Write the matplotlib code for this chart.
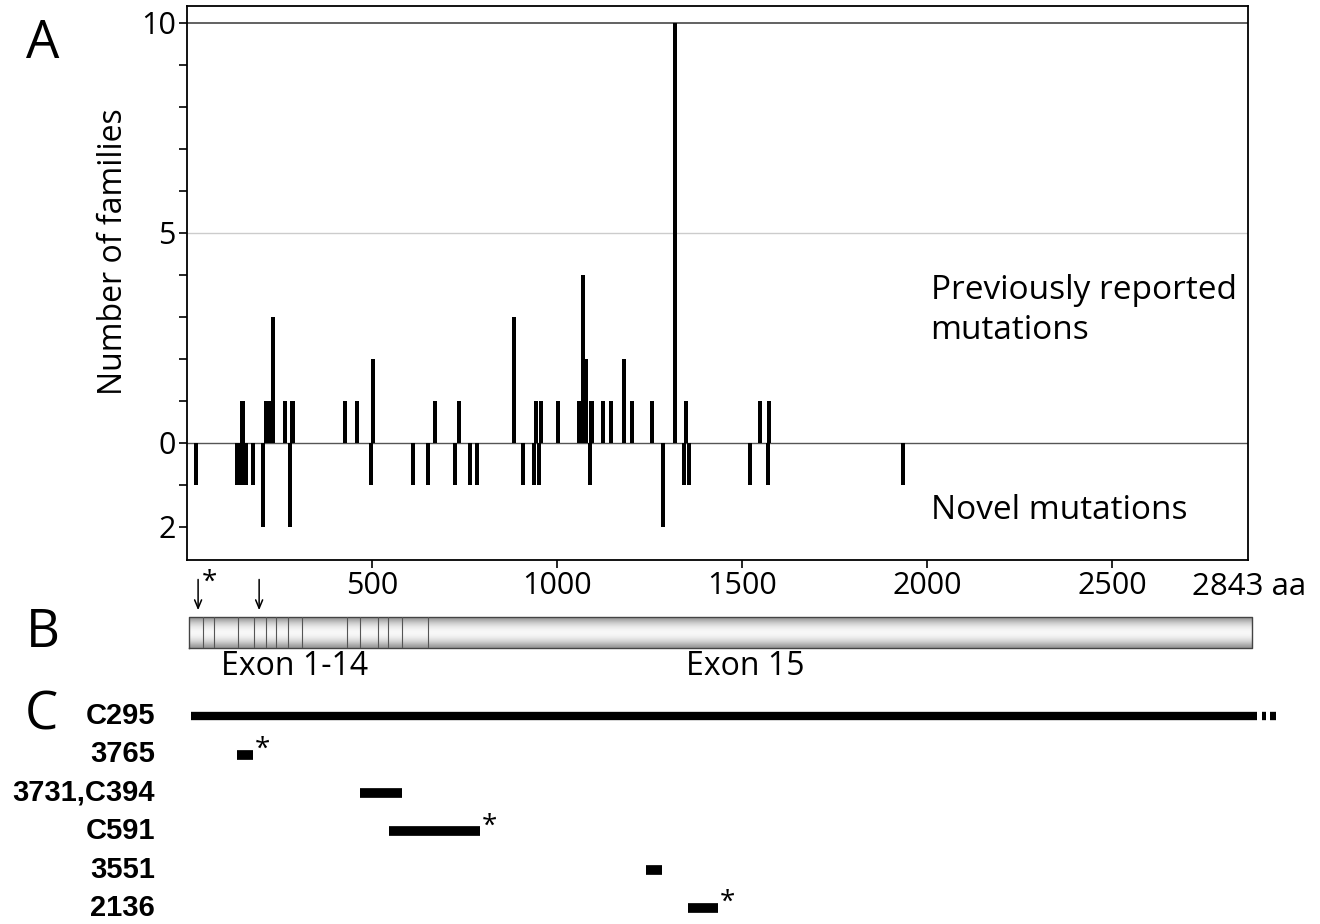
import numpy as np
import matplotlib
matplotlib.use('Agg')
import matplotlib.pyplot as plt

plt.rcParams['font.family'] = ['Open Sans', 'DejaVu Sans']

# panel A: previously reported mutations (position in aa, number of families)
rep_pos = [150, 214, 224, 233, 265, 285, 427, 460, 503, 670, 735, 884, 943, 957,
           1003, 1059, 1070, 1078, 1093, 1124, 1146, 1181, 1203, 1257, 1319, 1349,
           1549, 1573]
rep_n = [1, 1, 1, 3, 1, 1, 1, 1, 2, 1, 1, 3, 1, 1,
         1, 1, 4, 2, 1, 1, 1, 2, 1, 1, 10, 1,
         1, 1]

# novel mutations
nov_pos = [24, 135, 143, 150, 160, 178, 205, 278, 497, 611, 651, 724, 765, 784,
           908, 938, 951, 1089, 1287, 1343, 1357, 1522, 1570, 1935]
nov_n = [1, 1, 1, 1, 1, 1, 2, 2, 1, 1, 1, 1, 1, 1,
         1, 1, 1, 1, 2, 1, 1, 1, 1, 1]

# panel B: gene structure
gene_len = 2843
bar_end = 2878
exon_bounds = [44, 74, 139, 181, 214, 240, 274, 312, 433, 468, 517, 542, 580, 652]
arrow_pos = [30, 195]

# panel C: deleted / affected regions
c_labels = ['C295', '3765', '3731,C394', 'C591', '3551', '2136']
c_start = [11, 135, 468, 546, 1241, 1354]
c_end = [2892, 178, 581, 792, 1284, 1435]
c_star = [False, True, False, True, False, True]

W, H = 1320, 924
fig = plt.figure(figsize=(W / 100, H / 100), dpi=100)

x0, x1 = 187, 1248
xmax = 2868


def box(left, top, right, bottom):
    return [left / W, 1 - bottom / H, (right - left) / W, (bottom - top) / H]


# ---- A ----
ax = fig.add_axes(box(x0, 6, x1, 560))
ax.bar(rep_pos, rep_n, width=12, color='black', zorder=3)
ax.bar(nov_pos, [-n for n in nov_n], width=12, color='black', zorder=3)
ax.axhline(10, color='#555555', lw=1.3, zorder=1)
ax.axhline(5, color='#cccccc', lw=1.0, zorder=1)
ax.axhline(0, color='#555555', lw=1.0, zorder=2)
ax.set_xlim(0, xmax)
ax.set_ylim(-2.79, 10.4)
ax.set_yticks(range(-2, 11))
ax.set_yticklabels(['2' if v == -2 else (str(v) if v in (0, 5, 10) else '') for v in range(-2, 11)],
                   fontsize=22)
ax.set_xticks([500, 1000, 1500, 2000, 2500])
ax.set_xticklabels(['500', '1000', '1500', '2000', '2500'], fontsize=22)
ax.tick_params(length=6, width=1.2, direction='out', pad=2)
for s in ax.spines.values():
    s.set_linewidth(1.3)
ax.set_ylabel('Number of families', fontsize=23)
ax.yaxis.set_label_coords((130 - x0) / (x1 - x0), 0.556)
fig.text(1192 / W, 1 - 587 / H, '2843 aa', fontsize=22.5, ha='left', va='center')
ax.text(2010, 3.15, 'Previously reported\nmutations', fontsize=24, va='center',
        linespacing=1.3)
ax.text(2010, -1.6, 'Novel mutations', fontsize=24, va='center')
fig.text(43 / W, 1 - 44 / H, 'A', fontsize=38, ha='center', va='center')

# ---- B ----
axb = fig.add_axes(box(x0, 617, x1, 648))
shade = np.array([0.6, 0.75, 0.86, 0.93, 0.97, 0.97, 0.93, 0.86, 0.75, 0.6])[:, None]
axb.imshow(shade, cmap='gray', vmin=0, vmax=1, aspect='auto',
           extent=(5, bar_end, 0, 1), interpolation='bicubic', clip_on=False)
axb.plot([5, bar_end, bar_end, 5, 5], [0, 0, 1, 1, 0], color='#444444', lw=1.0,
         clip_on=False)
for e in exon_bounds:
    axb.plot([e, e], [0, 1], color='#555555', lw=0.8)
axb.set_xlim(0, xmax)
axb.set_ylim(0, 1)
axb.axis('off')
for p in arrow_pos:
    axb.annotate('', xy=(p, 1.13), xytext=(p, 2.3),
                 arrowprops=dict(arrowstyle='->,head_length=0.6,head_width=0.25',
                                 color='black', lw=1.1),
                 annotation_clip=False)
axb.text(arrow_pos[0] + 10, 2.1, '*', fontsize=20, ha='left', va='center')
axb.text(292, -0.6, 'Exon 1-14', fontsize=23, ha='center', va='center')
axb.text(1508, -0.6, 'Exon 15', fontsize=23, ha='center', va='center')
fig.text(43 / W, 1 - 633 / H, 'B', fontsize=38, ha='center', va='center')

# ---- C ----
axc = fig.add_axes(box(x0, 697, x1, 927))
axc.set_xlim(0, xmax)
axc.set_ylim(5.5, -0.5)
axc.axis('off')
for i, (lab, a, b, st) in enumerate(zip(c_labels, c_start, c_end, c_star)):
    axc.plot([a, b], [i, i], color='black', lw=7 if i else 6, solid_capstyle='butt',
             clip_on=False)
    axc.text(-0.03, i, lab, transform=axc.get_yaxis_transform(), ha='right',
             va='center', fontsize=21, fontweight='bold', family='Liberation Sans')
    if st:
        axc.text(b + 6, i - 0.12, '*', fontsize=20, ha='left', va='center')
# dashed continuation of the first line
axc.plot([2905, 2917], [0, 0], color='black', lw=6, solid_capstyle='butt', clip_on=False)
axc.plot([2928, 2943], [0, 0], color='black', lw=6, solid_capstyle='butt', clip_on=False)
fig.text(41 / W, 1 - 716 / H, 'C', fontsize=38, ha='center', va='center')

fig.savefig('out.png', dpi=100)
